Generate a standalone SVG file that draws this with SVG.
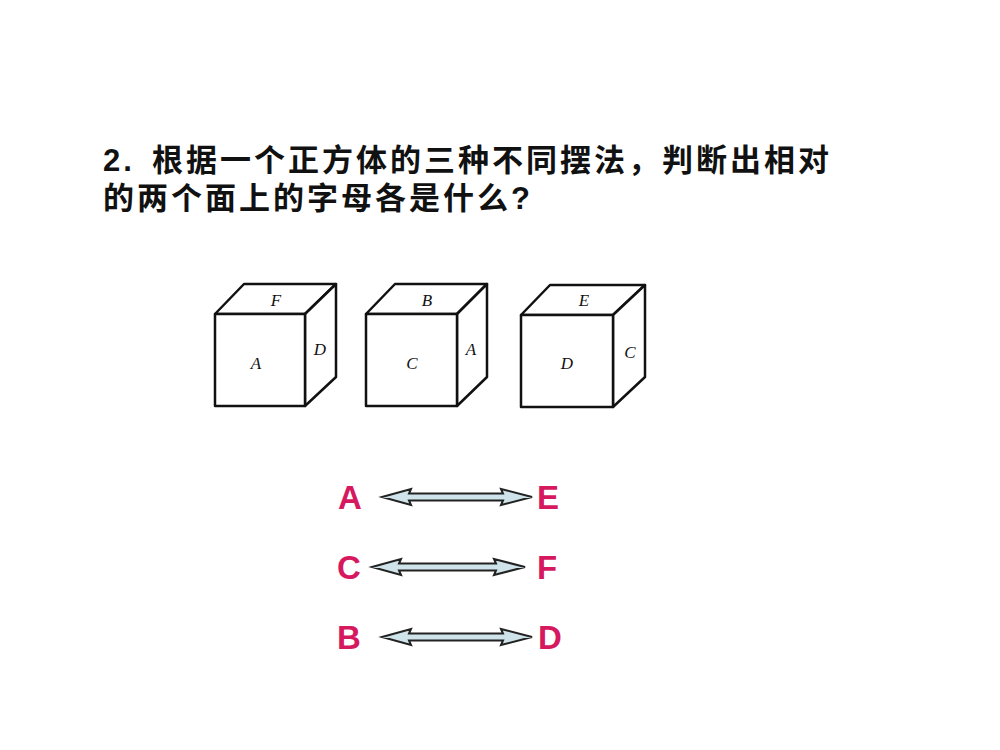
<svg xmlns="http://www.w3.org/2000/svg" width="1000" height="750" viewBox="0 0 1000 750">
<style>
.cube{fill:#fff;stroke:#111;stroke-width:2.5;stroke-linejoin:round}
.cl{font-family:"Liberation Serif",serif;font-style:italic;font-size:17px;fill:#111;text-anchor:middle}
.t{font-family:"Liberation Sans","Noto Sans CJK SC",sans-serif;font-size:31px;font-weight:bold;fill:#111;letter-spacing:3px}
.pl{font-family:"Liberation Sans",sans-serif;font-weight:bold;font-size:33px;fill:#d6195f;text-anchor:middle}
.arr{fill:#cfe3ea;stroke:#222;stroke-width:2;stroke-linejoin:miter}
</style>
<rect width="1000" height="750" fill="#fff"/>
<text class="t" y="171"><tspan x="103">2.</tspan><tspan x="152">根据一个正方体的三种不同摆法，判断出相对</tspan></text>
<text class="t" x="103" y="209">的两个面上的字母各是什么?</text>
<g id="cube1">
<path class="cube" d="M215,314 L244,284 L336,284 L305,314 Z"/>
<path class="cube" d="M305,314 L336,284 L336,377 L305,406 Z"/>
<rect class="cube" x="215" y="314" width="90" height="92"/>
<text class="cl" x="276" y="306">F</text><text class="cl" x="320" y="355">D</text><text class="cl" x="256" y="369">A</text>
</g>
<g id="cube2">
<path class="cube" d="M366,314 L395,284 L487,284 L457,314 Z"/>
<path class="cube" d="M457,314 L487,284 L487,377 L457,406 Z"/>
<rect class="cube" x="366" y="314" width="91" height="92"/>
<text class="cl" x="427" y="306">B</text><text class="cl" x="471" y="355">A</text><text class="cl" x="412" y="369">C</text>
</g>
<g id="cube3">
<path class="cube" d="M521,315 L550,285 L645,285 L613,315 Z"/>
<path class="cube" d="M613,315 L645,285 L645,377 L613,407 Z"/>
<rect class="cube" x="521" y="315" width="92" height="92"/>
<text class="cl" x="584" y="306">E</text><text class="cl" x="630" y="358">C</text><text class="cl" x="567" y="369">D</text>
</g>
<g id="labels">
<text class="pl" x="350" y="509">A</text><text class="pl" x="548" y="509">E</text>
<text class="pl" x="349" y="579">C</text><text class="pl" x="547" y="579">F</text>
<text class="pl" x="349" y="649">B</text><text class="pl" x="550" y="649">D</text>
</g>
<g id="connectors">
<path class="arr" d="M382,497 L411,489 L409,493.5 L503,493.5 L501,489 L532,497 L501,505 L503,500.5 L409,500.5 L411,505 Z"/>
<path class="arr" d="M372,567 L401,559 L399,563.5 L496,563.5 L494,559 L525,567 L494,575 L496,570.5 L399,570.5 L401,575 Z"/>
<path class="arr" d="M382,637 L411,629 L409,633.5 L503,633.5 L501,629 L532,637 L501,645 L503,640.5 L409,640.5 L411,645 Z"/>
</g>
</svg>
